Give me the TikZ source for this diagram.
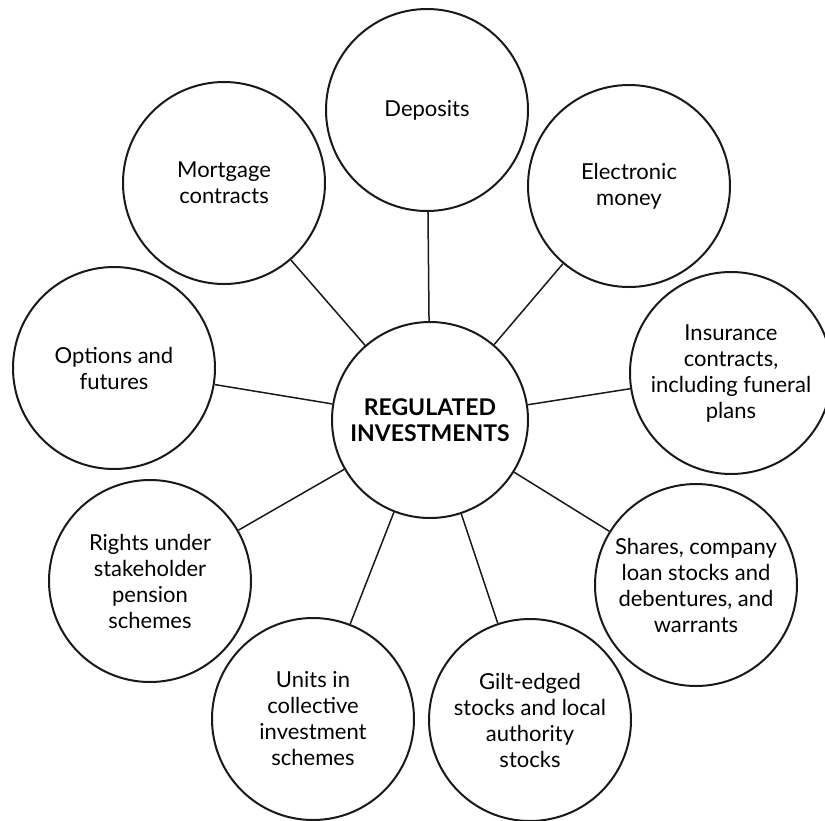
\documentclass[tikz,border=0pt]{standalone}
\usepackage{fontspec}
\setmainfont{Lato}
\usetikzlibrary{positioning}

\begin{document}
\begin{tikzpicture}[
  x=1pt, y=-1pt, font=\fontsize{22}{26}\selectfont,
  c/.style={circle, draw=black!90, line width=2pt, align=center, inner sep=0pt, minimum size=202pt},
  hub/.style={c, minimum size=196pt, font=\fontsize{23}{26}\selectfont\bfseries},
  l/.style={line width=1.5pt, draw=black!90},
]
\useasboundingbox (0,0) rectangle (825,820);
\node[hub] (reg) at (430,420) {REGULATED\\INVESTMENTS};
\node[c] (dep) at (427,110) {Deposits};
\node[c] (emoney) at (629,186) {Electronic\\money};
\node[c] (ins) at (731,373) {Insurance\\contracts,\\including funeral\\plans};
\node[c] (shares) at (696,585) {Shares, company\\loan stocks and\\debentures, and\\warrants};
\node[c] (gilt) at (530,720) {Gilt-edged\\stocks and local\\authority\\stocks};
\node[c] (units) at (313,719) {Units in\\collective\\investment\\schemes};
\node[c] (rights) at (150,581) {Rights under\\stakeholder\\pension\\schemes};
\node[c] (opts) at (114,368) {Options and\\futures};
\node[c] (mort) at (224,183) {Mortgage\\contracts};
\foreach \n in {dep,emoney,ins,shares,gilt,units,rights,opts,mort}
  \draw[l] (reg) -- (\n);
\end{tikzpicture}
\end{document}
